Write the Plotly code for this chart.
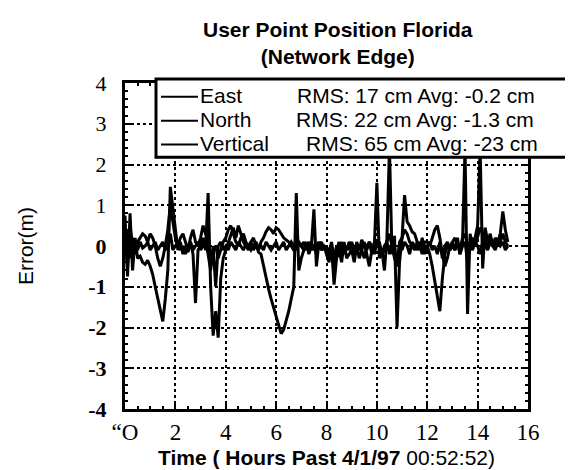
import plotly.graph_objects as go

# sampling grid: every 0.1 h from 0 to 15.2 h
hours = [round(i * 0.1, 1) for i in range(153)]

east = [
    -0.2, 0.4, -0.3, 0.2, 0.0, -0.1, 0.1, -0.05, 0.0, 0.1,
    -0.1, 0.0, 0.1, -0.1, 0.0, 0.1, -0.1, 0.0, 0.3, -0.1,
    0.0, 0.1, -0.1, 0.0, -0.2, 0.0, 0.1, -0.1, 0.0, 0.1,
    -0.1, 0.0, 0.1, -0.2, -0.6, 0.0, -1.0, 0.0, 0.1, -0.1,
    0.0, -0.1, 0.1, 0.0, -0.1, 0.1, 0.0, -0.1, 0.05, 0.0,
    -0.1, 0.0, 0.1, -0.05, 0.0, -0.1, 0.1, 0.0, -0.1, 0.0,
    0.1, -0.1, 0.0, 0.1, -0.1, 0.0, 0.1, 0.0, -0.1, 0.05,
    0.0, -0.1, 0.0, 0.1, -0.1, 0.0, -0.2, 0.0, 0.1, -0.1,
    0.0, -0.2, 0.1, -0.3, 0.0, -0.1, 0.1, -0.2, 0.0, -0.1,
    0.1, -0.1, -0.2, 0.0, -0.1, -0.3, 0.0, 0.1, -0.2, 0.1,
    0.0, 0.1, -0.2, 0.0, 0.1, -0.2, 0.1, 0.0, -0.5, 0.0,
    -0.1, 0.1, 0.0, -0.2, 0.1, 0.0, -0.1, 0.1, 0.0, -0.1,
    0.0, 0.1, -0.1, 0.0, -0.2, 0.1, -0.3, 0.0, 0.1, -0.1,
    0.0, -0.1, 0.1, -0.2, 0.0, 0.1, -0.4, 0.0, -0.1, 0.1,
    0.0, -0.2, 0.1, 0.0, -0.1, 0.1, 0.0, -0.1, 0.1, 0.0,
    0.1, -0.1, 0.0,
]

north = [
    0.3, -0.5, 0.5, 0.0, -0.2, 0.1, 0.2, 0.3, 0.25, 0.1,
    0.3, 0.2, 0.0, -0.3, -0.5, -0.3, 0.0, 0.4, 1.0, 0.6,
    0.2, 0.0, 0.2, 0.3, 0.1, -0.1, 0.2, 0.4, 0.1, 0.0,
    0.2, 0.5, 0.3, 0.1, -0.2, -0.1, 0.0, -0.3, -0.1, 0.1,
    0.2, 0.4, 0.5, 0.3, 0.1, 0.0, 0.2, 0.3, 0.1, 0.0,
    0.1, 0.2, 0.0, -0.1, 0.1, 0.2, 0.35, 0.45, 0.4, 0.3,
    0.45, 0.4, 0.3, 0.2, 0.15, 0.1, 0.0, -0.1, 0.0, 0.1,
    0.0, 0.1, -0.1, 0.0, 0.1, -0.1, 0.0, 0.1, -0.1, 0.0,
    -0.1, -0.3, -0.2, -0.6, -0.1, 0.1, -0.2, 0.0, -0.1, 0.1,
    0.0, -0.2, 0.1, -0.1, 0.15, 0.0, -0.1, 0.1, 0.0, -0.2,
    0.1, 0.0, -0.2, -0.1, 0.1, 0.3, 0.0, -0.3, -0.5, 0.1,
    0.2, 0.4, 0.3, 0.1, 0.0, -0.1, 0.1, 0.0, -0.2, 0.1,
    0.1, 0.0, 0.2, 0.4, 0.5, 0.2, -0.2, -0.5, -0.3, 0.0,
    0.1, 0.2, 0.0, -0.1, 0.2, 0.3, 0.0, 0.1, 0.2, 0.0,
    0.2, 0.45, 0.3, 0.1, 0.0, 0.2, 0.1, 0.0, 0.15, 0.1,
    0.3, 0.1, 0.0,
]

vertical = [
    0.75, -0.75, 0.8, -0.6, 0.2, -0.3, -0.25, -0.4, -0.45, -0.35,
    -0.5, -0.7, -1.0, -1.3, -1.6, -1.85, -1.3, -0.6, 1.45, 0.9,
    0.3, -0.1, 0.1, -0.2, 0.0, -0.15, 0.1, -0.2, -1.4, -0.1,
    0.0, 0.2, -0.1, 1.3, -1.0, -2.2, -1.6, -2.25, -0.8, -0.3,
    -0.1, 0.1, 0.3, 0.45, 0.2, 0.5, 0.3, 0.1, 0.0, -0.1,
    0.1, -0.1, 0.05, -0.15, -0.2, -0.5, -0.8, -1.05, -1.3, -1.5,
    -1.75, -1.95, -2.15, -2.05, -1.85, -1.6, -1.3, -1.0, 1.3, -0.6,
    -0.3, -0.1, 0.1, -0.2, 0.0, 0.9, -0.5, 0.1, -0.1, 0.0,
    -0.2, -0.4, 0.0, -0.95, -0.3, -0.1, -0.4, 0.1, -0.3, -0.2,
    -0.1, -0.4, 0.0, -0.3, -0.1, 0.1, -0.2, -0.5, -0.1, 0.0,
    1.55, -0.3, -0.1, -0.6, 0.2, 2.4, -0.2, 0.25, -2.0, -0.4,
    0.2, 1.25, 0.6, 0.5, 0.35, 0.3, 0.1, -0.1, 0.2, -0.2,
    0.0, -0.2, -0.5, -0.9, -1.3, -1.6, -0.8, -0.2, 0.0, -0.1,
    0.1, -0.1, 0.2, -0.2, 0.1, 2.4, -1.67, 0.3, 0.0, 0.2,
    0.5, 2.4, -0.55, 0.45, 0.1, 0.3, 0.0, 0.2, 0.1, 0.3,
    0.85, 0.4, 0.1,
]

series_names = ["East", "North", "Vertical"]
series_stats = ["RMS: 17 cm Avg: -0.2 cm", "RMS: 22 cm Avg: -1.3 cm", "RMS: 65 cm Avg: -23 cm"]

x_tickvals = [0, 2, 4, 6, 8, 10, 12, 14, 16]
x_ticktext = ["\u201cO", "2", "4", "6", "8", "10", "12", "14", "16"]
y_tickvals = [4, 3, 2, 1, 0, -1, -2, -3, -4]
y_ticktext = ["4", "3", "2", "1", "<b>0</b>", "<b>-1</b>", "<b>-2</b>", "<b>-3</b>", "<b>-4</b>"]

# plot-area geometry in pixels (for placing the legend box)
W, H = 573, 470
L, R, T, B = 117, 53, 75, 66
PW, PH = W - L - R, H - T - B


def px_x(p):
    return (p - L) / PW


def px_y(p):
    return (H - B - p) / PH


fig = go.Figure()
for name, vals in zip(series_names, [east, north, vertical]):
    fig.add_trace(go.Scatter(x=hours, y=vals, mode="lines", name=name,
                             line=dict(color="black", width=3), showlegend=False))

axis_common = dict(
    showgrid=True, gridcolor="black", griddash="dot", gridwidth=1.5,
    showline=True, linecolor="black", linewidth=3, mirror="allticks",
    ticks="inside", ticklen=6, tickwidth=1.5, tickcolor="black",
    zeroline=False,
)

fig.update_xaxes(range=[0, 16], tickvals=x_tickvals, ticktext=x_ticktext,
                 tickfont=dict(family="Liberation Serif", size=23, color="black"),
                 minor=dict(ticks="inside", ticklen=3, dtick=0.5, tickcolor="black", showgrid=False),
                 title=dict(text="<b>Time ( Hours Past 4/1/97</b> 00:52:52)",
                            font=dict(family="Liberation Sans", size=21, color="black"),
                            standoff=7),
                 **axis_common)
fig.update_yaxes(range=[-4, 4], tickvals=y_tickvals, ticktext=y_ticktext,
                 tickfont=dict(family="Liberation Serif", size=22, color="black"),
                 ticklabelstandoff=11,
                 minor=dict(ticks="inside", ticklen=3, dtick=0.2, tickcolor="black", showgrid=False),
                 title=dict(text="Error(m)",
                            font=dict(family="Liberation Sans", size=21, color="black"),
                            standoff=49),
                 **axis_common)

# legend box (extends past right edge like the reference)
fig.add_shape(type="rect", xref="paper", yref="paper",
              x0=px_x(148), x1=1.3, y0=px_y(150), y1=px_y(71),
              fillcolor="white", line=dict(color="black", width=3), layer="above")

row_y = [88, 112, 136]
stat_x = [288, 287, 297]
for name, stat, ry, sx in zip(series_names, series_stats, row_y, stat_x):
    fig.add_shape(type="line", xref="paper", yref="paper",
                  x0=px_x(153), x1=px_x(190), y0=px_y(ry + 1), y1=px_y(ry + 1),
                  line=dict(color="black", width=2), layer="above")
    fig.add_annotation(xref="paper", yref="paper", x=px_x(191), y=px_y(ry),
                       xanchor="left", yanchor="middle", showarrow=False, text=name,
                       borderpad=0,
                       font=dict(family="Liberation Sans", size=21, color="black"))
    fig.add_annotation(xref="paper", yref="paper", x=px_x(sx), y=px_y(ry),
                       xanchor="left", yanchor="middle", showarrow=False, text=stat,
                       borderpad=0,
                       font=dict(family="Liberation Sans", size=21, color="black"))

# title
fig.add_annotation(xref="paper", yref="paper", x=px_x(330), y=px_y(7),
                   xanchor="center", yanchor="top", showarrow=False,
                   text="<b>User Point Position Florida</b><br><b>(Network Edge)</b>",
                   font=dict(family="Liberation Sans", size=21, color="black"))

fig.update_layout(
    width=W, height=H,
    margin=dict(l=L, r=R, t=T, b=B),
    paper_bgcolor="white", plot_bgcolor="white",
    showlegend=False,
)

fig.write_html("out.html")
